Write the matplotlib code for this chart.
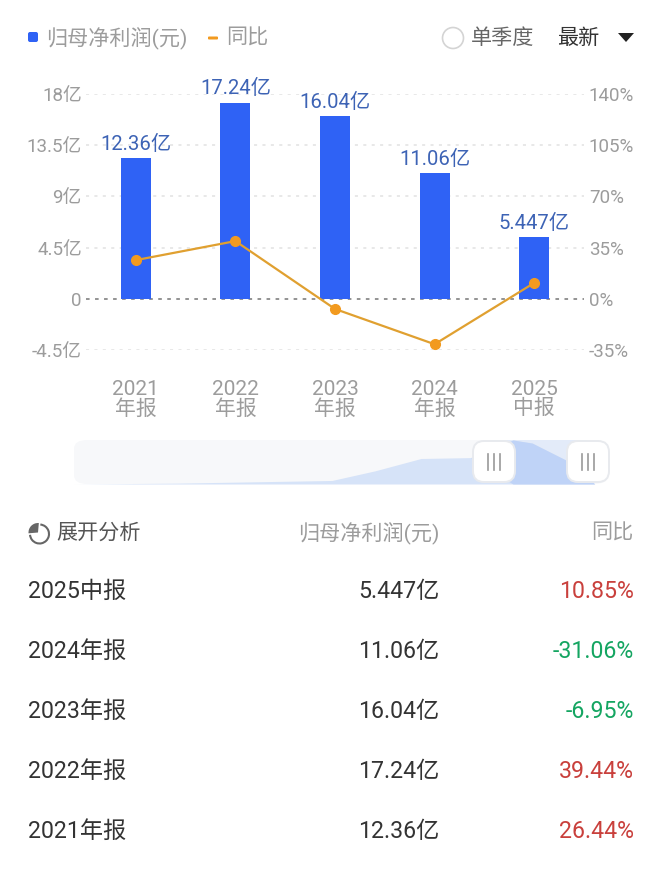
"""Net profit panel: bars + yoy line, overview strip, table below."""
import matplotlib
matplotlib.use("Agg")
import matplotlib.pyplot as plt
from matplotlib.patches import FancyBboxPatch, Circle, Wedge, Polygon, Arc

plt.rcParams["font.family"] = ["Roboto", "Noto Sans CJK SC", "DejaVu Sans"]

# data
periods = ["2021\n年报", "2022\n年报", "2023\n年报", "2024\n年报", "2025\n中报"]
profit = [12.36, 17.24, 16.04, 11.06, 5.447]
profit_labels = ["12.36亿", "17.24亿", "16.04亿", "11.06亿", "5.447亿"]
yoy = [26.44, 39.44, -6.95, -31.06, 10.85]
left_ticks = [-4.5, 0, 4.5, 9, 13.5, 18]
left_labels = ["-4.5亿", "0", "4.5亿", "9亿", "13.5亿", "18亿"]
right_ticks = [-35, 0, 35, 70, 105, 140]
right_labels = ["-35%", "0%", "35%", "70%", "105%", "140%"]

strip_pos = [0, 19.5, 48.3, 56.4, 65, 74.3, 82.2, 85.8, 93, 96, 97.5]
strip_val = [0, 0.02, 0.08, 0.30, 0.58, 0.60, 1.0, 0.93, 0.49, 0.19, 0]

table_periods = ["2025中报", "2024年报", "2023年报", "2022年报", "2021年报"]
table_profit = ["5.447亿", "11.06亿", "16.04亿", "17.24亿", "12.36亿"]
table_yoy = ["10.85%", "-31.06%", "-6.95%", "39.44%", "26.44%"]

W, H = 660, 872
BLUE = "#2f62f5"; ORANGE = "#f29a1f"; LINE = "#e0a030"
GREY = "#9c9c9c"; LABEL = "#3d63b5"; DARK = "#333333"
RED = "#c9403c"; GREEN = "#14a561"

fig = plt.figure(figsize=(W / 100, H / 100), dpi=100, facecolor="white")


def px_axes(x0, x1, ytop, ybot):
    return fig.add_axes([x0 / W, 1 - ybot / H, (x1 - x0) / W, (ybot - ytop) / H])


# ---- main chart ------------------------------------------------------------
ax = px_axes(86, 584, 94, 350)
ax.set_xlim(-0.5, 4.5); ax.set_ylim(-4.5, 18)
for s in ax.spines.values():
    s.set_visible(False)
ax.patch.set_alpha(0)
for t in left_ticks:
    if t == 0:
        ax.axhline(t, color="#8a8a8a", lw=1.3, ls=(0, (2, 3)), zorder=1)
    else:
        ax.axhline(t, color="#e2e2e2", lw=1.1, ls=(0, (2, 3.5)), zorder=1)
ax.bar(range(5), profit, width=0.3, color=BLUE, zorder=2)
for i, (v, s) in enumerate(zip(profit, profit_labels)):
    ax.annotate(s, (i, v), xytext=(0, 3), textcoords="offset points", ha="center",
                va="bottom", color=LABEL, fontsize=14.6)
ax.set_xticks(range(5))
ax.set_xticklabels(periods, color=GREY, fontsize=15, linespacing=1.0)
ax.set_yticks(left_ticks)
ax.set_yticklabels(left_labels, color=GREY, fontsize=13.5)
ax.tick_params(length=0)
ax.tick_params(axis="x", pad=21.5)
ax.tick_params(axis="y", pad=3)

ax2 = ax.twinx()
ax2.set_ylim(-35, 140)
for s in ax2.spines.values():
    s.set_visible(False)
ax2.plot(range(5), yoy, color=LINE, lw=1.6, marker="o", ms=7, mfc=ORANGE, mec=ORANGE,
         zorder=5)
ax2.set_yticks(right_ticks)
ax2.set_yticklabels(right_labels, color=GREY, fontsize=13.5)
ax2.tick_params(length=0, pad=3.5)

# ---- overview strip --------------------------------------------------------
strip = px_axes(74, 608, 440, 484)
strip.set_xlim(0, 100); strip.set_ylim(0, 1)
strip.axis("off")
strip.add_patch(FancyBboxPatch((0, 0.0), 100, 1.0, boxstyle="round,pad=0,rounding_size=2.5",
                               mutation_aspect=0.08, fc="#f7f8fa", ec="none", zorder=1,
                               clip_on=False))
strip.axvspan(78, 96, ymin=0, ymax=1, color="#e3ebf9", lw=0, zorder=1.5)
strip.fill_between(strip_pos, strip_val, 0, color="#d6e3f8", lw=0, zorder=2)
strip.fill_between(strip_pos, strip_val, 0, where=[p >= 78 for p in strip_pos],
                   interpolate=True, color="#bfd3f7", lw=0, zorder=3)

# ---- overlay in pixel coordinates ------------------------------------------
ui = fig.add_axes([0, 0, 1, 1])
ui.set_xlim(0, W); ui.set_ylim(H, 0); ui.axis("off"); ui.patch.set_alpha(0)

ui.add_patch(FancyBboxPatch((28, 32), 10, 10, boxstyle="round,pad=0,rounding_size=2",
                            fc=BLUE, ec="none"))
ui.text(46, 38, "归母净利润(元)", color=GREY, fontsize=15.2, va="center")
ui.add_patch(FancyBboxPatch((208, 36.5), 10, 3, boxstyle="round,pad=0,rounding_size=1",
                            fc=ORANGE, ec="none"))
ui.text(226, 38, "同比", color=GREY, fontsize=15.2, va="center")
ui.add_patch(Circle((453, 38), 10.5, fc="white", ec="#d4d4d4", lw=1.2))
ui.text(471, 38, "单季度", color="#666666", fontsize=15.2, va="center")
ui.text(557, 38, "最新", color=DARK, fontsize=15.2, va="center")
ui.add_patch(Polygon([(618, 33), (634, 33), (626, 42)], fc="#222222", ec="none"))

# slider handles
for x0 in (473, 567):
    ui.add_patch(FancyBboxPatch((x0, 441), 42, 41, boxstyle="round,pad=0,rounding_size=11",
                                fc="white", ec="#e8eaee", lw=1.4, zorder=4))
    for dx in (15, 21, 27):
        ui.plot([x0 + dx, x0 + dx], [454, 470], color="#9a9a9a", lw=1.2, zorder=5)

# table header, pie icon (y axis is flipped, so angles run clockwise on screen)
ui.add_patch(Arc((39.5, 534), 19, 19, theta1=-85, theta2=175, color="#666666", lw=1.5))
ui.add_patch(Wedge((38, 532.5), 9.5, 175, 275, fc="#666666", ec="none"))
ui.text(56, 533, "展开分析", color="#555555", fontsize=15.2, va="center")
ui.text(439, 533, "归母净利润(元)", color=GREY, fontsize=15.2, va="center", ha="right")
ui.text(633, 533, "同比", color=GREY, fontsize=15.2, va="center", ha="right")

# table rows
for i, (p, v, y) in enumerate(zip(table_periods, table_profit, table_yoy)):
    row = 591 + i * 60
    ui.text(28, row, p, color=DARK, fontsize=16.7, va="center")
    ui.text(439, row, v, color=DARK, fontsize=16.7, va="center", ha="right")
    ui.text(634, row, y, color=GREEN if y.startswith("-") else RED, fontsize=16.7,
            va="center", ha="right")

fig.savefig("out.png", dpi=100, facecolor="white")
